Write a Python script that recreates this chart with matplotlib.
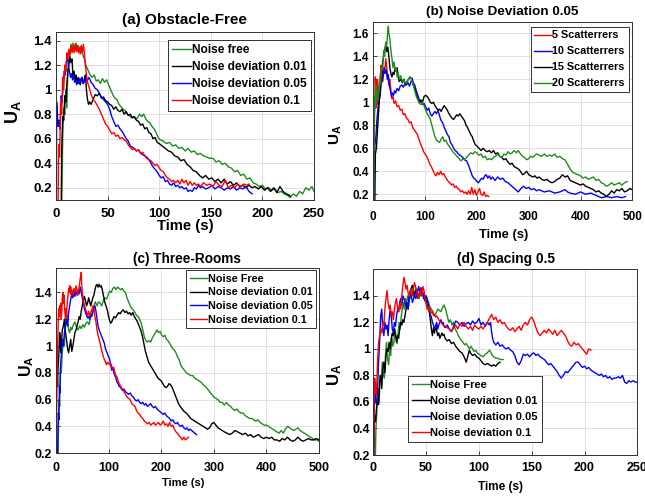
import matplotlib
matplotlib.use('Agg')
import matplotlib.pyplot as plt

plt.rcParams['font.family'] = ['Liberation Sans', 'DejaVu Sans']
plt.rcParams['font.weight'] = 'bold'
plt.rcParams['mathtext.fontset'] = 'custom'
plt.rcParams['mathtext.rm'] = 'Liberation Sans:bold'
plt.rcParams['mathtext.it'] = 'Liberation Sans:bold'
plt.rcParams['mathtext.bf'] = 'Liberation Sans:bold'

# ---------------- data (time, U_A) ----------------
A_LABELS = ['Noise free', 'Noise deviation 0.01', 'Noise deviation 0.05', 'Noise deviation 0.1']
A_NOISE_FREE = [(5.5,0.0),(6.5,0.6),(7.5,0.85),(8.5,0.8),(9.5,1.0),(10.5,0.85),(11.5,1.15),(12.5,1.25),(13.5,1.3),(14.5,1.37),(15.5,1.33),(16.5,1.38),(17.5,1.34),(18.5,1.36),(19.5,1.38),(20.5,1.33),(21.5,1.36),(22.5,1.32),(23.5,1.35),(24.5,1.31),(25.5,1.3),(26.5,1.27),(27.5,1.25),(29,1.2),(31,1.16),(33,1.12),(35,1.1),(37,1.12),(39,1.07),(41,1.08),(43,1.05),(45,1.09),(47,1.06),(49,1.08),(51,1.04),(53,1.0),(55,0.96),(57,0.93),(59,0.92),(61,0.88),(63,0.86),(65,0.84),(67,0.83),(69,0.8),(71,0.79),(73,0.77),(75,0.78),(77,0.76),(79,0.77),(81,0.8),(83,0.78),(85,0.8),(87,0.76),(89,0.74),(91,0.73),(93,0.7),(95,0.68),(97,0.65),(99,0.61),(101,0.59),(104,0.58),(107,0.56),(110,0.57),(113,0.54),(116,0.55),(119,0.52),(122,0.53),(125,0.5),(128,0.52),(131,0.49),(134,0.5),(137,0.47),(140,0.48),(143,0.46),(146,0.45),(149,0.44),(152,0.44),(155,0.41),(158,0.42),(161,0.39),(164,0.4),(167,0.37),(170,0.36),(173,0.33),(176,0.34),(179,0.3),(182,0.31),(185,0.27),(188,0.28),(191,0.24),(194,0.23),(197,0.21),(200,0.22),(203,0.19),(206,0.2),(209,0.18),(212,0.19),(215,0.16),(218,0.17),(221,0.15),(224,0.14),(227,0.12),(230,0.15),(233,0.13),(236,0.17),(239,0.15),(242,0.2),(245,0.18),(248,0.21),(250,0.17)]
A_DEV_001 = [(5,0.0),(5.5,0.5),(6.5,0.78),(7.5,0.75),(8.5,0.95),(9.5,0.9),(10.5,1.05),(11.5,1.15),(12.5,1.2),(13.5,1.27),(14.5,1.22),(15.5,1.25),(16.5,1.1),(17.5,1.15),(18.5,1.08),(19.5,1.12),(20.5,1.05),(21.5,1.1),(22.5,1.07),(23.5,1.04),(24.5,1.08),(25.5,1.1),(26.5,1.05),(27.5,1.08),(28.5,1.12),(29.5,1.0),(30.5,0.92),(31.5,0.88),(32.5,0.9),(34,0.88),(36,0.92),(38,0.96),(40,0.95),(42,0.97),(44,0.93),(46,0.94),(48,0.91),(50,0.9),(52,0.88),(54,0.87),(56,0.84),(58,0.86),(60,0.83),(62,0.82),(64,0.84),(66,0.8),(68,0.82),(70,0.79),(72,0.8),(74,0.77),(76,0.78),(78,0.75),(80,0.74),(82,0.71),(84,0.72),(86,0.68),(88,0.69),(90,0.65),(92,0.64),(94,0.6),(96,0.61),(98,0.57),(100,0.56),(103,0.54),(106,0.52),(109,0.5),(112,0.49),(115,0.46),(118,0.45),(121,0.42),(124,0.43),(127,0.39),(130,0.37),(133,0.34),(136,0.33),(139,0.3),(142,0.28),(145,0.3),(148,0.27),(151,0.28),(154,0.25),(157,0.27),(160,0.24),(163,0.27),(166,0.23),(169,0.25),(172,0.22),(175,0.24),(178,0.21),(181,0.22),(184,0.2),(187,0.22),(190,0.2),(193,0.21),(196,0.19),(199,0.21),(202,0.18),(205,0.2),(208,0.17),(211,0.2),(214,0.16),(217,0.21),(220,0.17),(223,0.15),(226,0.14),(227,0.13)]
A_DEV_005 = [(0.3,0.0),(0.6,0.9),(1.2,0.82),(2,0.7),(3,0.75),(4,0.68),(5,0.95),(6,0.9),(7,1.05),(8,1.15),(9,1.12),(10,1.22),(11,1.28),(12,1.2),(13,1.15),(14,1.1),(15,1.13),(16,1.08),(17,1.12),(18,1.06),(19,1.08),(20,1.04),(21,1.07),(22,1.05),(23,1.09),(24,1.07),(25,1.1),(26,1.05),(27,1.08),(28,1.06),(29,1.1),(30,1.07),(32,1.1),(34,1.06),(36,1.04),(38,1.01),(40,1.0),(42,0.97),(44,0.94),(46,0.92),(48,0.9),(50,0.88),(52,0.84),(54,0.78),(56,0.74),(58,0.7),(60,0.71),(62,0.68),(64,0.66),(66,0.63),(68,0.6),(70,0.58),(72,0.54),(74,0.53),(76,0.52),(78,0.5),(80,0.51),(82,0.48),(84,0.47),(86,0.46),(88,0.44),(90,0.43),(92,0.4),(94,0.37),(96,0.35),(98,0.33),(100,0.3),(102,0.28),(104,0.29),(106,0.25),(108,0.26),(110,0.23),(112,0.22),(114,0.24),(116,0.21),(118,0.22),(120,0.2),(122,0.21),(124,0.19),(126,0.2),(128,0.17),(130,0.18),(132,0.17),(134,0.2),(136,0.19),(138,0.22),(140,0.2),(142,0.21),(145,0.19),(148,0.2),(151,0.22),(154,0.19),(157,0.21),(160,0.2),(163,0.18),(166,0.2),(169,0.19),(172,0.21),(175,0.18),(178,0.2),(181,0.19),(184,0.21),(187,0.17),(190,0.15)]
A_DEV_01 = [(2,0.0),(2.5,0.55),(3.5,0.45),(4.5,0.9),(5.5,0.8),(6.5,1.1),(7.5,1.0),(8.5,1.2),(9.5,1.15),(10.5,1.3),(11.5,1.25),(12.5,1.33),(13.5,1.28),(14.5,1.36),(15.5,1.3),(16.5,1.35),(17.5,1.3),(18.5,1.37),(19.5,1.31),(20.5,1.36),(21.5,1.3),(22.5,1.34),(23.5,1.29),(24.5,1.36),(25.5,1.3),(26.5,1.37),(27.5,1.3),(28.5,1.2),(29.5,1.12),(30.5,1.06),(32,1.02),(34,0.96),(36,0.92),(38,0.9),(40,0.87),(42,0.84),(44,0.8),(46,0.76),(48,0.72),(50,0.7),(52,0.67),(54,0.64),(56,0.65),(58,0.62),(60,0.63),(62,0.6),(64,0.61),(66,0.59),(68,0.58),(70,0.55),(72,0.53),(74,0.51),(76,0.52),(78,0.5),(80,0.51),(82,0.48),(84,0.49),(86,0.46),(88,0.45),(90,0.43),(92,0.42),(94,0.4),(96,0.38),(98,0.39),(100,0.36),(102,0.34),(104,0.33),(106,0.3),(108,0.28),(110,0.27),(112,0.25),(114,0.26),(116,0.24),(118,0.26),(120,0.23),(122,0.27),(124,0.24),(126,0.26),(128,0.22),(130,0.25),(132,0.22),(134,0.24),(136,0.22),(138,0.23),(140,0.21),(143,0.24),(146,0.22),(149,0.23),(152,0.21),(155,0.25),(158,0.22),(161,0.21),(164,0.26),(167,0.2),(170,0.22),(173,0.2),(176,0.23),(179,0.21),(182,0.23),(185,0.22),(187,0.23)]

B_LABELS = ['5 Scatterrers', '10 Scatterrers', '15 Scatterrers', '20 Scattererrs']
B_SC5 = [(0.5,0.15),(1.5,0.7),(3,1.0),(4,1.22),(5,0.95),(6,1.05),(7,1.2),(8,0.98),(10,1.1),(12,1.18),(14,1.25),(15,1.32),(16,1.22),(17,1.28),(18,1.18),(20,1.3),(22,1.25),(24,1.38),(26,1.3),(28,1.22),(30,1.15),(32,1.2),(34,1.1),(36,1.03),(38,1.05),(40,0.99),(43,1.01),(46,0.96),(49,0.97),(52,0.93),(55,0.94),(58,0.89),(61,0.9),(64,0.86),(67,0.85),(70,0.82),(73,0.83),(76,0.78),(79,0.76),(82,0.74),(85,0.72),(88,0.68),(91,0.64),(94,0.61),(97,0.57),(100,0.55),(103,0.53),(106,0.5),(109,0.46),(112,0.44),(115,0.41),(118,0.38),(121,0.36),(124,0.39),(127,0.37),(130,0.4),(133,0.37),(136,0.38),(139,0.35),(142,0.33),(145,0.31),(148,0.3),(151,0.28),(154,0.29),(157,0.26),(160,0.27),(163,0.25),(166,0.24),(169,0.22),(172,0.23),(175,0.21),(178,0.22),(181,0.2),(184,0.23),(187,0.2),(190,0.26),(193,0.2),(196,0.24),(199,0.19),(202,0.22),(205,0.25),(208,0.2),(211,0.19),(214,0.22),(217,0.18),(220,0.19),(223,0.18)]
B_SC10 = [(1,0.15),(2,0.55),(3,0.62),(5,0.7),(7,0.85),(9,0.95),(11,1.0),(13,1.05),(15,1.15),(17,1.2),(19,1.22),(21,1.3),(23,1.25),(25,1.28),(27,1.2),(29,1.24),(31,1.15),(33,1.1),(35,1.05),(37,1.08),(39,1.06),(41,1.1),(43,1.08),(46,1.12),(49,1.1),(52,1.14),(55,1.15),(58,1.13),(61,1.16),(64,1.15),(67,1.17),(70,1.14),(73,1.18),(75,1.21),(77,1.17),(80,1.15),(83,1.1),(86,1.06),(89,1.02),(92,1.0),(95,0.98),(98,0.99),(101,0.96),(104,0.93),(107,0.95),(110,0.9),(113,0.88),(116,0.9),(119,0.92),(122,0.9),(125,0.93),(128,0.88),(131,0.84),(134,0.82),(137,0.78),(140,0.75),(143,0.72),(146,0.7),(149,0.65),(152,0.63),(155,0.6),(158,0.58),(161,0.57),(164,0.55),(167,0.54),(170,0.53),(173,0.52),(176,0.5),(180,0.49),(184,0.45),(188,0.4),(191,0.36),(194,0.34),(197,0.33),(200,0.31),(203,0.3),(206,0.32),(209,0.34),(212,0.33),(215,0.36),(218,0.37),(221,0.34),(224,0.36),(227,0.33),(230,0.35),(235,0.32),(240,0.35),(245,0.33),(250,0.34),(255,0.31),(260,0.3),(265,0.28),(270,0.26),(275,0.24),(280,0.22),(285,0.25),(290,0.27),(295,0.25),(300,0.26),(305,0.24),(310,0.25),(315,0.23),(320,0.24),(330,0.22),(340,0.23),(350,0.21),(360,0.22),(370,0.24),(375,0.22),(380,0.21),(390,0.2),(400,0.22),(410,0.2),(420,0.21),(430,0.19),(440,0.17),(450,0.18),(460,0.17),(470,0.18),(480,0.17),(487,0.18)]
B_SC15 = [(3,0.15),(4,0.55),(6,0.6),(8,0.75),(10,0.9),(12,1.05),(14,1.15),(16,1.22),(18,1.35),(20,1.4),(22,1.45),(24,1.5),(26,1.44),(28,1.48),(30,1.4),(32,1.3),(34,1.25),(36,1.22),(38,1.26),(40,1.24),(42,1.3),(44,1.27),(46,1.3),(48,1.22),(50,1.18),(53,1.2),(56,1.17),(59,1.2),(62,1.15),(65,1.18),(68,1.2),(71,1.22),(74,1.2),(77,1.15),(80,1.12),(83,1.07),(86,1.03),(89,1.0),(92,1.02),(95,1.0),(98,1.05),(101,1.06),(104,1.05),(107,1.03),(110,1.0),(113,0.99),(116,1.0),(119,0.97),(122,0.95),(125,0.93),(128,0.94),(131,0.92),(134,0.95),(137,0.97),(140,0.95),(143,0.93),(146,0.9),(149,0.88),(152,0.86),(155,0.85),(158,0.87),(161,0.89),(164,0.88),(167,0.9),(170,0.88),(173,0.86),(176,0.84),(179,0.8),(182,0.78),(185,0.75),(188,0.72),(191,0.7),(194,0.66),(197,0.63),(200,0.62),(204,0.6),(208,0.58),(212,0.6),(216,0.58),(220,0.57),(224,0.58),(228,0.56),(232,0.58),(236,0.55),(240,0.56),(244,0.53),(248,0.52),(252,0.5),(256,0.51),(260,0.48),(264,0.46),(268,0.47),(272,0.44),(276,0.43),(280,0.42),(284,0.4),(288,0.37),(292,0.38),(296,0.4),(300,0.37),(304,0.36),(308,0.35),(312,0.36),(316,0.34),(320,0.35),(325,0.33),(330,0.32),(335,0.33),(340,0.31),(345,0.3),(350,0.31),(355,0.33),(360,0.34),(365,0.37),(370,0.35),(375,0.36),(380,0.32),(385,0.31),(390,0.3),(395,0.29),(400,0.28),(405,0.29),(410,0.27),(415,0.26),(420,0.25),(425,0.24),(430,0.22),(435,0.23),(440,0.21),(445,0.2),(450,0.18),(455,0.2),(460,0.23),(465,0.21),(470,0.24),(475,0.23),(480,0.25),(485,0.22),(490,0.23),(495,0.25),(500,0.24)]
B_SC20 = [(1,0.15),(2,0.9),(3,1.05),(4,0.95),(5,1.15),(6,1.0),(8,1.1),(10,1.05),(12,1.2),(14,1.15),(16,1.3),(18,1.28),(20,1.45),(22,1.4),(24,1.52),(26,1.5),(28,1.62),(29,1.66),(30,1.6),(32,1.55),(34,1.45),(36,1.38),(38,1.3),(40,1.35),(42,1.28),(44,1.3),(46,1.22),(48,1.26),(50,1.2),(53,1.23),(56,1.18),(59,1.2),(62,1.16),(65,1.18),(68,1.2),(71,1.22),(74,1.2),(77,1.15),(80,1.1),(83,1.05),(86,1.02),(89,0.99),(92,0.98),(95,1.0),(98,0.97),(101,0.93),(104,0.9),(107,0.88),(110,0.85),(113,0.8),(116,0.75),(119,0.7),(122,0.67),(125,0.66),(128,0.65),(131,0.68),(134,0.7),(137,0.66),(140,0.67),(143,0.64),(146,0.62),(149,0.6),(152,0.58),(155,0.56),(158,0.55),(161,0.53),(164,0.52),(167,0.5),(170,0.49),(173,0.51),(176,0.5),(180,0.52),(184,0.54),(188,0.56),(192,0.55),(196,0.57),(200,0.56),(204,0.54),(208,0.55),(212,0.52),(216,0.53),(220,0.5),(224,0.51),(228,0.5),(232,0.52),(236,0.53),(240,0.55),(244,0.53),(248,0.52),(252,0.55),(256,0.54),(260,0.57),(264,0.55),(268,0.56),(272,0.58),(276,0.56),(280,0.58),(284,0.55),(288,0.53),(292,0.52),(296,0.5),(300,0.51),(304,0.53),(308,0.52),(312,0.54),(316,0.55),(320,0.54),(325,0.53),(330,0.55),(335,0.53),(340,0.54),(345,0.53),(350,0.55),(355,0.52),(360,0.53),(365,0.51),(370,0.5),(375,0.46),(380,0.42),(385,0.39),(390,0.38),(395,0.37),(400,0.36),(405,0.34),(410,0.35),(415,0.33),(420,0.34),(425,0.35),(430,0.32),(435,0.33),(440,0.3),(445,0.29),(450,0.27),(455,0.28),(460,0.3),(465,0.28),(470,0.29),(475,0.3),(480,0.28),(485,0.3),(490,0.31)]

C_LABELS = ['Noise Free', 'Noise deviation 0.01', 'Noise deviation 0.05', 'Noise deviation 0.1']
C_NOISE_FREE = [(4,0.2),(5,0.5),(6,0.6),(7,0.55),(8,0.75),(9,0.85),(10,0.8),(12,0.95),(14,1.05),(16,1.0),(18,1.15),(20,1.25),(22,1.2),(24,1.12),(26,1.1),(28,1.14),(30,1.12),(33,1.16),(36,1.18),(39,1.14),(42,1.12),(45,1.15),(48,1.13),(51,1.16),(54,1.14),(57,1.17),(60,1.18),(63,1.16),(66,1.22),(69,1.25),(72,1.3),(75,1.33),(78,1.3),(81,1.33),(84,1.32),(87,1.3),(90,1.34),(93,1.36),(96,1.35),(99,1.38),(102,1.41),(105,1.4),(108,1.43),(111,1.44),(114,1.42),(117,1.44),(120,1.43),(123,1.42),(126,1.43),(129,1.41),(132,1.4),(135,1.36),(138,1.33),(141,1.3),(144,1.28),(147,1.27),(150,1.25),(153,1.23),(156,1.22),(159,1.2),(162,1.17),(165,1.12),(168,1.07),(171,1.04),(174,1.03),(177,1.04),(180,1.03),(183,1.06),(186,1.08),(189,1.1),(192,1.12),(195,1.1),(198,1.11),(201,1.08),(204,1.07),(207,1.08),(210,1.05),(213,1.04),(216,1.02),(219,1.0),(222,0.98),(225,0.97),(228,0.95),(231,0.92),(234,0.9),(237,0.86),(240,0.84),(244,0.82),(248,0.8),(252,0.79),(256,0.78),(260,0.78),(264,0.76),(268,0.75),(272,0.74),(276,0.73),(280,0.71),(284,0.7),(288,0.68),(292,0.66),(296,0.64),(300,0.62),(304,0.61),(308,0.6),(312,0.58),(316,0.58),(320,0.56),(324,0.58),(328,0.56),(332,0.55),(336,0.53),(340,0.52),(344,0.53),(348,0.51),(352,0.5),(356,0.5),(360,0.48),(364,0.47),(368,0.46),(372,0.46),(376,0.45),(380,0.44),(384,0.45),(388,0.43),(392,0.42),(396,0.41),(400,0.41),(404,0.4),(408,0.39),(412,0.38),(416,0.37),(420,0.36),(424,0.35),(428,0.37),(432,0.35),(436,0.38),(440,0.4),(444,0.39),(448,0.38),(452,0.37),(456,0.38),(460,0.39),(464,0.37),(468,0.36),(472,0.35),(476,0.34),(480,0.33),(484,0.32),(488,0.31),(492,0.3),(496,0.3),(500,0.29)]
C_DEV_001 = [(0.5,0.2),(1,0.95),(2,0.8),(3,0.7),(4,0.85),(5,0.9),(6,1.0),(7,1.1),(8,1.05),(9,0.95),(10,1.0),(12,1.12),(14,1.15),(16,1.2),(18,1.1),(20,1.05),(22,0.98),(24,0.95),(26,1.0),(28,1.05),(30,0.96),(32,1.0),(34,1.05),(36,1.1),(38,1.12),(40,1.15),(42,1.18),(44,1.22),(46,1.2),(48,1.26),(50,1.3),(52,1.34),(54,1.37),(56,1.34),(58,1.3),(60,1.32),(62,1.36),(64,1.33),(66,1.3),(68,1.33),(70,1.36),(72,1.38),(74,1.42),(76,1.45),(78,1.46),(80,1.44),(82,1.46),(84,1.44),(86,1.45),(88,1.42),(90,1.38),(92,1.34),(94,1.31),(96,1.29),(98,1.26),(100,1.22),(102,1.19),(104,1.17),(106,1.18),(108,1.2),(110,1.22),(113,1.21),(116,1.23),(119,1.25),(122,1.24),(125,1.26),(128,1.27),(131,1.25),(134,1.26),(137,1.24),(140,1.25),(143,1.23),(146,1.25),(149,1.22),(152,1.2),(155,1.18),(158,1.15),(161,1.12),(164,1.08),(167,1.02),(170,0.96),(173,0.92),(176,0.88),(179,0.86),(182,0.84),(185,0.82),(188,0.8),(191,0.78),(194,0.76),(197,0.75),(200,0.74),(203,0.72),(206,0.7),(209,0.69),(212,0.7),(215,0.72),(218,0.71),(221,0.69),(224,0.66),(227,0.63),(230,0.6),(233,0.57),(236,0.55),(240,0.53),(244,0.51),(248,0.5),(252,0.48),(256,0.46),(260,0.45),(264,0.44),(268,0.43),(272,0.42),(276,0.41),(280,0.4),(284,0.39),(288,0.38),(292,0.39),(296,0.42),(300,0.43),(304,0.41),(308,0.39),(312,0.38),(316,0.37),(320,0.36),(325,0.35),(330,0.34),(335,0.35),(340,0.37),(345,0.36),(350,0.35),(355,0.34),(360,0.35),(365,0.33),(370,0.34),(375,0.32),(380,0.33),(385,0.34),(390,0.32),(395,0.31),(400,0.32),(405,0.31),(410,0.32),(415,0.3),(420,0.3),(425,0.29),(430,0.31),(435,0.3),(440,0.32),(445,0.3),(450,0.29),(455,0.3),(460,0.32),(465,0.3),(470,0.29),(475,0.3),(480,0.31),(485,0.3),(490,0.3),(495,0.31),(500,0.3)]
C_DEV_005 = [(3,0.2),(3.5,0.3),(4.5,0.5),(5.5,0.45),(6.5,0.7),(7.5,0.65),(8.5,0.85),(9.5,0.9),(10.5,0.95),(12,1.05),(14,1.0),(16,1.1),(18,1.15),(20,1.2),(22,1.15),(24,1.25),(26,1.3),(28,1.35),(30,1.38),(32,1.36),(34,1.4),(36,1.37),(38,1.41),(40,1.38),(42,1.42),(44,1.39),(46,1.44),(48,1.4),(50,1.36),(52,1.32),(54,1.28),(56,1.25),(58,1.23),(60,1.21),(62,1.22),(64,1.2),(66,1.23),(68,1.22),(70,1.25),(72,1.28),(74,1.3),(76,1.26),(78,1.2),(80,1.15),(82,1.12),(84,1.1),(86,1.08),(88,1.06),(90,1.04),(92,1.02),(94,0.98),(96,0.96),(98,0.94),(100,0.92),(102,0.9),(104,0.86),(106,0.82),(108,0.84),(110,0.8),(112,0.78),(114,0.76),(116,0.73),(118,0.72),(120,0.7),(123,0.69),(126,0.67),(129,0.68),(132,0.66),(135,0.65),(138,0.64),(141,0.65),(144,0.63),(147,0.62),(150,0.6),(153,0.59),(156,0.6),(159,0.58),(162,0.57),(165,0.58),(168,0.56),(171,0.57),(174,0.55),(177,0.56),(180,0.57),(183,0.55),(186,0.54),(189,0.55),(192,0.53),(195,0.52),(198,0.51),(201,0.5),(204,0.49),(207,0.5),(210,0.48),(213,0.47),(216,0.46),(219,0.44),(222,0.45),(225,0.43),(228,0.42),(231,0.43),(234,0.41),(237,0.4),(240,0.41),(243,0.39),(246,0.38),(249,0.39),(252,0.37),(255,0.38),(258,0.37),(261,0.36),(264,0.35),(267,0.34)]
C_DEV_01 = [(0.3,0.2),(1,0.5),(2,0.75),(3,1.0),(4,1.15),(5,1.28),(6,1.22),(7,1.3),(8,1.25),(9,1.32),(10,1.2),(11,1.26),(12,1.35),(13,1.4),(14,1.32),(15,1.38),(16,1.3),(17,1.25),(18,1.2),(19,1.28),(20,1.22),(21,1.3),(22,1.35),(23,1.38),(24,1.43),(25,1.4),(26,1.45),(27,1.4),(28,1.44),(29,1.38),(30,1.42),(32,1.38),(34,1.43),(36,1.4),(38,1.45),(40,1.42),(42,1.38),(44,1.44),(46,1.5),(48,1.55),(49,1.45),(50,1.4),(52,1.35),(54,1.3),(56,1.28),(58,1.25),(60,1.23),(62,1.26),(64,1.22),(66,1.25),(68,1.27),(70,1.3),(72,1.28),(74,1.22),(76,1.18),(78,1.12),(80,1.08),(82,1.05),(84,1.02),(86,0.98),(88,0.95),(90,0.92),(92,0.9),(94,0.88),(96,0.86),(98,0.88),(100,0.87),(102,0.86),(104,0.87),(106,0.85),(108,0.83),(110,0.84),(112,0.8),(114,0.78),(116,0.77),(118,0.74),(120,0.72),(123,0.7),(126,0.68),(129,0.66),(132,0.64),(135,0.62),(138,0.61),(141,0.6),(144,0.57),(147,0.56),(150,0.55),(153,0.52),(156,0.5),(159,0.49),(162,0.47),(165,0.46),(168,0.44),(171,0.43),(174,0.42),(177,0.43),(180,0.41),(183,0.42),(186,0.43),(189,0.41),(192,0.42),(195,0.43),(198,0.41),(201,0.42),(204,0.44),(207,0.41),(210,0.42),(213,0.4),(216,0.43),(219,0.4),(222,0.41),(225,0.38),(228,0.36),(231,0.35),(234,0.33),(237,0.32),(240,0.3),(243,0.32),(246,0.3),(249,0.31),(252,0.32)]

D_LABELS = ['Noise Free', 'Noise deviation 0.01', 'Noise deviation 0.05', 'Noise deviation 0.1']
D_NOISE_FREE = [(2,0.2),(2.5,0.4),(3.5,0.55),(4.5,0.7),(5.5,0.6),(6.5,0.8),(7.5,0.75),(8.5,0.9),(9.5,0.82),(10.5,0.78),(11.5,0.95),(12.5,1.05),(13.5,0.92),(14.5,0.88),(15.5,1.0),(16.5,0.95),(17.5,1.1),(18.5,1.02),(19.5,1.05),(20.5,1.15),(21.5,1.1),(22.5,1.04),(23.5,1.12),(24.5,1.2),(25.5,1.15),(26.5,1.25),(27.5,1.3),(28.5,1.35),(29.5,1.3),(30.5,1.38),(31.5,1.33),(32.5,1.4),(33.5,1.36),(34.5,1.42),(35.5,1.38),(37,1.44),(38.5,1.4),(40,1.45),(41.5,1.38),(43,1.42),(44.5,1.4),(46,1.43),(47.5,1.38),(49,1.4),(50.5,1.35),(52,1.36),(53.5,1.32),(55,1.3),(56.5,1.28),(58,1.25),(59.5,1.27),(61,1.3),(62.5,1.29),(64,1.28),(65.5,1.31),(67,1.33),(68.5,1.3),(70,1.25),(71.5,1.2),(73,1.22),(74.5,1.18),(76,1.2),(77.5,1.15),(79,1.13),(80.5,1.1),(82,1.08),(83.5,1.06),(85,1.05),(86.5,1.03),(88,1.04),(89.5,1.02),(91,1.0),(92.5,1.02),(94,1.0),(95.5,0.98),(97,0.99),(98.5,0.97),(100,0.96),(102,0.95),(104,0.94),(106,0.96),(108,0.97),(110,0.99),(111,0.98),(112,0.96),(114,0.94),(116,0.93),(118,0.93),(120,0.92),(123,0.92)]
D_DEV_001 = [(0.5,0.2),(1,0.5),(2,0.45),(3,0.55),(4,0.6),(5,0.58),(6,0.75),(7,0.8),(8,0.7),(9,0.85),(10,0.9),(11,0.82),(12,0.95),(13,1.0),(14,0.98),(15,1.05),(16,1.0),(17,1.08),(18,1.12),(19,1.1),(20,1.15),(21,1.1),(22,1.05),(23,1.1),(24,1.08),(25,1.15),(26,1.2),(27,1.18),(28,1.22),(29,1.2),(30,1.25),(31,1.3),(32,1.34),(33,1.3),(34,1.38),(35,1.42),(36,1.46),(37,1.48),(38,1.44),(39,1.4),(40,1.43),(41,1.45),(42,1.4),(43,1.38),(44,1.42),(45,1.46),(46,1.44),(47,1.42),(48,1.38),(49,1.4),(50,1.36),(51,1.33),(52,1.3),(53,1.28),(54,1.22),(55,1.15),(56,1.1),(57,1.16),(58,1.12),(59,1.18),(60,1.14),(61,1.1),(62,1.12),(63,1.08),(64,1.1),(65,1.12),(66,1.1),(67,1.11),(68,1.08),(70,1.06),(72,1.07),(74,1.04),(76,1.05),(78,1.02),(80,1.0),(82,0.98),(84,0.97),(86,0.94),(87,0.92),(88,0.9),(89,0.93),(90,0.96),(91,0.99),(92,0.97),(94,0.95),(96,0.96),(98,0.94),(100,0.93),(102,0.91),(104,0.89),(106,0.88),(108,0.89),(110,0.88),(112,0.87),(114,0.88),(116,0.87),(118,0.89),(120,0.9)]
D_DEV_005 = [(0.3,0.2),(0.8,0.5),(1.3,0.7),(2,0.62),(3,0.58),(4,0.7),(5,0.9),(6,1.05),(7,1.25),(8,1.3),(9,1.15),(10,1.1),(11,1.2),(12,1.15),(13,1.18),(14,1.1),(15,1.22),(16,1.3),(17,1.25),(18,1.15),(19,1.12),(20,1.2),(21,1.17),(22,1.25),(23,1.3),(24,1.28),(25,1.35),(26,1.38),(27,1.33),(28,1.4),(29,1.38),(30,1.35),(31,1.32),(32,1.35),(33,1.3),(34,1.38),(35,1.44),(36,1.4),(37,1.35),(38,1.37),(39,1.42),(40,1.38),(41,1.4),(42,1.44),(43,1.47),(44,1.42),(45,1.46),(46,1.4),(47,1.42),(48,1.38),(49,1.36),(50,1.4),(51,1.38),(52,1.34),(53,1.3),(54,1.26),(55,1.24),(56,1.2),(57,1.18),(58,1.15),(59,1.17),(60,1.2),(61,1.15),(62,1.18),(63,1.2),(64,1.22),(65,1.19),(66,1.2),(67,1.17),(68,1.16),(70,1.18),(72,1.15),(74,1.13),(76,1.17),(78,1.21),(80,1.2),(82,1.18),(84,1.2),(86,1.17),(88,1.19),(90,1.2),(92,1.18),(94,1.21),(96,1.19),(98,1.2),(100,1.23),(102,1.18),(104,1.2),(106,1.17),(108,1.2),(110,1.18),(111,1.2),(112,1.13),(113,1.08),(114,1.05),(116,1.03),(118,1.05),(120,1.02),(122,1.03),(124,1.01),(126,1.0),(128,1.01),(130,0.99),(132,0.98),(134,0.95),(136,0.9),(138,0.88),(140,0.91),(142,0.96),(144,0.95),(146,0.96),(148,0.94),(150,0.96),(152,0.97),(154,0.95),(156,0.96),(158,0.94),(160,0.93),(162,0.92),(164,0.9),(166,0.88),(168,0.89),(170,0.87),(172,0.85),(174,0.83),(176,0.8),(178,0.78),(180,0.8),(182,0.83),(184,0.82),(186,0.84),(188,0.86),(190,0.88),(192,0.9),(194,0.9),(196,0.88),(198,0.86),(200,0.87),(202,0.85),(204,0.86),(206,0.84),(208,0.83),(210,0.82),(212,0.81),(214,0.8),(216,0.81),(218,0.79),(220,0.8),(222,0.78),(224,0.79),(226,0.77),(228,0.78),(230,0.78),(232,0.79),(234,0.78),(236,0.8),(238,0.75),(240,0.74),(242,0.76),(244,0.75),(246,0.76),(248,0.75),(250,0.75)]
D_DEV_01 = [(0.3,0.2),(0.8,0.6),(1.3,0.78),(2,0.7),(3,0.65),(4,0.9),(5,1.05),(6,1.1),(7,1.15),(8,1.12),(9,1.2),(10,1.18),(11,1.3),(12,1.38),(13,1.44),(14,1.35),(15,1.3),(16,1.33),(17,1.25),(18,1.28),(19,1.22),(20,1.3),(21,1.35),(22,1.38),(23,1.3),(24,1.28),(25,1.34),(26,1.3),(27,1.4),(28,1.48),(29,1.54),(30,1.5),(31,1.45),(32,1.48),(33,1.42),(34,1.4),(35,1.44),(36,1.42),(37,1.4),(38,1.45),(39,1.5),(40,1.47),(41,1.44),(42,1.4),(43,1.38),(44,1.42),(45,1.45),(46,1.4),(47,1.47),(48,1.44),(49,1.38),(50,1.34),(51,1.3),(52,1.32),(53,1.28),(54,1.3),(55,1.27),(56,1.28),(57,1.25),(58,1.26),(59,1.24),(60,1.25),(62,1.22),(64,1.2),(66,1.18),(68,1.17),(70,1.16),(72,1.15),(74,1.13),(76,1.16),(78,1.18),(80,1.15),(82,1.19),(84,1.17),(86,1.2),(88,1.17),(90,1.15),(92,1.17),(94,1.14),(96,1.18),(98,1.16),(100,1.15),(102,1.17),(104,1.15),(106,1.18),(108,1.2),(110,1.23),(112,1.26),(114,1.22),(116,1.24),(118,1.2),(120,1.22),(122,1.19),(124,1.2),(126,1.17),(128,1.15),(130,1.14),(132,1.16),(134,1.13),(136,1.15),(138,1.17),(140,1.14),(142,1.18),(144,1.2),(146,1.18),(148,1.22),(150,1.24),(152,1.21),(154,1.16),(156,1.12),(158,1.1),(160,1.12),(162,1.14),(164,1.12),(166,1.15),(168,1.13),(170,1.11),(172,1.14),(174,1.1),(176,1.12),(178,1.14),(180,1.12),(182,1.1),(184,1.06),(186,1.03),(188,1.02),(190,1.05),(192,1.03),(194,1.04),(196,1.02),(198,1.0),(200,0.98),(202,0.96),(204,1.0),(206,0.99)]

X_TICKS_250 = [0, 50, 100, 150, 200, 250]
X_TICKS_500 = [0, 100, 200, 300, 400, 500]
Y_TICKS_14 = [0.2, 0.4, 0.6, 0.8, 1.0, 1.2, 1.4]
Y_TICKS_16 = [0.2, 0.4, 0.6, 0.8, 1.0, 1.2, 1.4, 1.6]

GREEN = '#1e8c1e'
COLORS_NOISE = [GREEN, 'black', '#0000ff', '#ff0000']
COLORS_SCAT = ['#ff0000', '#0000ff', 'black', GREEN]

W, H = 645, 497
fig = plt.figure(figsize=(W / 100, H / 100), dpi=100)


def fmt(v):
    s = ('%.1f' % v)
    return s[:-2] if s.endswith('.0') else s


def panel(rect, xlim, ylim, xticks, yticks, series, labels, colors,
          title, title_xy, title_fs, xlab_xy, xlab_fs, ylab_xy, ylab_fs,
          tick_fs, xpad, ypad, leg_xy, leg_fs, leg_sp):
    l, t, r, b = rect
    ax = fig.add_axes([l / W, 1 - b / H, (r - l) / W, (b - t) / H])
    for data, lab, c in zip(series, labels, colors):
        xs = [p[0] for p in data]
        ys = [p[1] for p in data]
        ax.plot(xs, ys, color=c, lw=1.0, label=lab)
    ax.set_xlim(*xlim)
    ax.set_ylim(*ylim)
    ax.set_xticks(xticks)
    ax.set_xticklabels([str(v) for v in xticks])
    ax.set_yticks(yticks)
    ax.set_yticklabels([fmt(v) for v in yticks])
    ax.tick_params(direction='in', length=3, width=0.6, labelsize=tick_fs,
                   colors='#262626', labelcolor='black')
    ax.tick_params(axis='x', pad=xpad)
    ax.tick_params(axis='y', pad=ypad)
    for lab in ax.get_xticklabels() + ax.get_yticklabels():
        lab.set_fontweight('bold')
    ax.grid(True, color='#dedede', lw=0.7)
    ax.set_axisbelow(True)
    for s in ax.spines.values():
        s.set_color('#303030')
        s.set_linewidth(0.7)
    fig.text(title_xy[0] / W, 1 - title_xy[1] / H, title, ha='center', va='center',
             fontsize=title_fs, fontweight='bold')
    fig.text(xlab_xy[0] / W, 1 - xlab_xy[1] / H, 'Time (s)', ha='center', va='center',
             fontsize=xlab_fs, fontweight='bold')
    fig.text(ylab_xy[0] / W, 1 - ylab_xy[1] / H, r'$\mathbf{U}_\mathbf{A}$', ha='center',
             va='center', rotation=90, fontsize=ylab_fs)
    leg = ax.legend(loc='upper left', bbox_to_anchor=(leg_xy[0] / W, 1 - leg_xy[1] / H),
                    bbox_transform=fig.transFigure, borderaxespad=0,
                    frameon=True, fancybox=False, framealpha=1, edgecolor='#303030',
                    handlelength=1.6, handletextpad=0.05, labelspacing=leg_sp,
                    borderpad=0.35, prop={'weight': 'bold', 'size': leg_fs})
    leg.get_frame().set_linewidth(0.7)
    return ax


panel((56, 32, 314, 200), (0, 250), (0.1, 1.47), X_TICKS_250, Y_TICKS_14,
      [A_NOISE_FREE, A_DEV_001, A_DEV_005, A_DEV_01], A_LABELS, COLORS_NOISE,
      '(a) Obstacle-Free', (184.5, 20), 11, (185, 226), 10.7, (13, 112), 13,
      9.5, 6, 3, (168, 40), 8.6, 0.42)

panel((373.3, 21.7, 632.3, 200), (0, 500), (0.15, 1.7), X_TICKS_500, Y_TICKS_16,
      [B_SC5, B_SC10, B_SC15, B_SC20], B_LABELS, COLORS_SCAT,
      '(b) Noise Deviation 0.05', (502, 12), 9.7, (504, 235), 9.4, (336, 135), 11,
      8.5, 8, 3.5, (530.7, 26.7), 7.8, 0.55)

panel((56, 268.3, 319, 453.3), (0, 500), (0.2, 1.58), X_TICKS_500, Y_TICKS_14,
      [C_NOISE_FREE, C_DEV_001, C_DEV_005, C_DEV_01], C_LABELS, COLORS_NOISE,
      '(c) Three-Rooms', (187, 259), 9.8, (183, 483), 8.0, (27, 366), 11.5,
      9, 6.5, 3, (186, 270), 7.8, 0.33)

panel((373.3, 269.3, 637.3, 455), (0, 250), (0.2, 1.6), X_TICKS_250, Y_TICKS_14,
      [D_NOISE_FREE, D_DEV_001, D_DEV_005, D_DEV_01], D_LABELS, COLORS_NOISE,
      '(d) Spacing 0.5', (506, 258.5), 9.9, (501, 487), 8.5, (335, 375), 12,
      9, 5, 2.5, (408, 376), 8.0, 0.55)

fig.savefig('out.png', dpi=100)
